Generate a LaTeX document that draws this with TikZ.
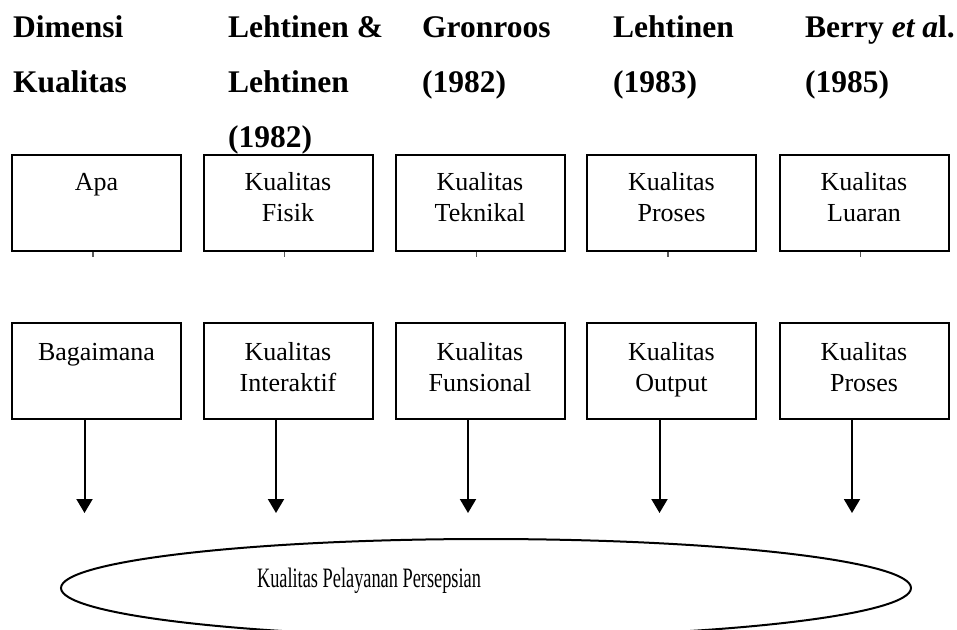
\documentclass[tikz,border=0pt]{standalone}
\usepackage{fontspec}
\setmainfont{Liberation Serif}
\usetikzlibrary{arrows.meta,shapes.geometric}
\newcommand{\bxtxt}[2]{\parbox[c][96pt][t]{169pt}{\centering\rule{0pt}{#1pt}#2}}
\begin{document}
\begin{tikzpicture}[x=1pt,y=-1pt,
  hd/.style={anchor=base west,inner sep=0pt,font=\fontsize{31.5}{38}\selectfont\bfseries},
  bx/.style={draw,line width=2pt,inner sep=0pt,font=\fontsize{26}{31}\selectfont},
  tk/.style={draw=black!65,line width=1.4pt},
  arr/.style={line width=2pt,-{Triangle[width=16pt,length=14pt]}},
  ell/.style={draw,ellipse,line width=2pt,inner sep=0pt,minimum width=850pt,minimum height=98pt},
  lbl/.style={anchor=base,inner sep=0pt,font=\fontsize{26}{31}\selectfont}]
\useasboundingbox (0,0) rectangle (957,629);
\clip (0,0) rectangle (957,629);
% headers
\node[hd] (h1a) at (13,37) {Dimensi};
\node[hd] (h1b) at (13,92) {Kualitas};
\node[hd] (h2a) at (228,37) {Lehtinen \&};
\node[hd] (h2b) at (228,92) {Lehtinen};
\node[hd] (h2c) at (228,147) {(1982)};
\node[hd] (h3a) at (422,37) {Gronroos};
\node[hd] (h3b) at (422,92) {(1982)};
\node[hd] (h4a) at (613,37) {Lehtinen};
\node[hd] (h4b) at (613,92) {(1983)};
\node[hd] (h5a) at (805,37) {Berry \textit{et a}l.};
\node[hd] (h5b) at (805,92) {(1985)};
% top boxes
\node[bx] (t1) at (96.5,203) {\bxtxt{35.5}{Apa}};
\node[bx] (t2) at (288,203) {\bxtxt{35.5}{Kualitas\\Fisik}};
\node[bx] (t3) at (480,203) {\bxtxt{35.5}{Kualitas\\Teknikal}};
\node[bx] (t4) at (671.5,203) {\bxtxt{35.5}{Kualitas\\Proses}};
\node[bx] (t5) at (864,203) {\bxtxt{35.5}{Kualitas\\Luaran}};
% ticks
\foreach \n in {t1,t2,t3,t4,t5}
  \draw[tk] ([xshift=-3.5pt]\n.south) -- ++(0,5);
% bottom boxes
\node[bx] (b1) at (96.5,371) {\bxtxt{37}{Bagaimana}};
\node[bx] (b2) at (288,371) {\bxtxt{37}{Kualitas\\Interaktif}};
\node[bx] (b3) at (480,371) {\bxtxt{37}{Kualitas\\Funsional}};
\node[bx] (b4) at (671.5,371) {\bxtxt{37}{Kualitas\\Output}};
\node[bx] (b5) at (864,371) {\bxtxt{37}{Kualitas\\Proses}};
% ellipse
\node[ell] (e) at (486,588) {};
\node[lbl] (et) at (369,587) {\scalebox{0.705}[1.08]{Kualitas Pelayanan Persepsian}};
% arrows
\foreach \n/\m in {b1/a1,b2/a2,b3/a3,b4/a4,b5/a5}{
  \coordinate (\m) at ([xshift=-12pt]\n.south |- 0,513);
  \draw[arr] ([xshift=-12pt]\n.south) -- (\m);
}
\end{tikzpicture}
\end{document}
